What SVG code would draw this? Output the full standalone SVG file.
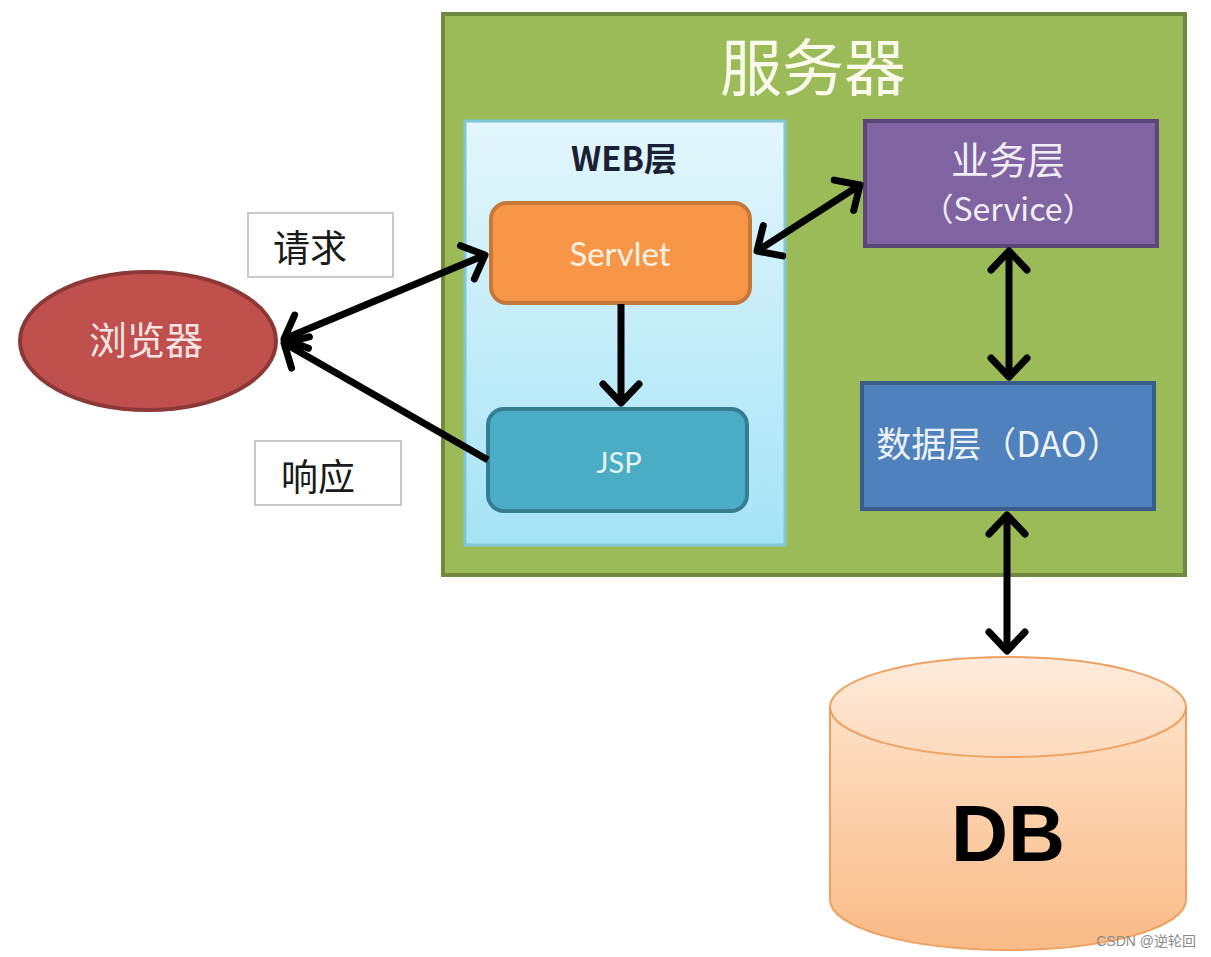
<svg xmlns="http://www.w3.org/2000/svg" width="1211" height="957" viewBox="0 0 1211 957">
<style>
.cjk{font-family:"Noto Sans CJK SC","Noto Sans",sans-serif}
.lat{font-family:Lato,"Open Sans","Noto Sans CJK SC",sans-serif}
.conn{stroke:#000;stroke-width:7;fill:none;stroke-linecap:butt}
</style>
<defs>
<linearGradient id="webg" x1="0" y1="0" x2="0" y2="1">
<stop offset="0" stop-color="#E3F6FC"/><stop offset="1" stop-color="#A5E3F6"/>
</linearGradient>
<linearGradient id="dbbody" x1="0" y1="0" x2="0" y2="1">
<stop offset="0" stop-color="#FDE0C6"/><stop offset="1" stop-color="#F9BA86"/>
</linearGradient>
<linearGradient id="dbtop" x1="0" y1="0" x2="0" y2="1">
<stop offset="0" stop-color="#FEEBDB"/><stop offset="1" stop-color="#FCDABD"/>
</linearGradient>
<marker id="ah" markerUnits="userSpaceOnUse" markerWidth="60" markerHeight="60" viewBox="-30 -30 60 60" refX="0" refY="0" orient="auto-start-reverse" overflow="visible">
<path d="M-19,-18 L0,0 L-19,18" fill="none" stroke="#000" stroke-width="7" stroke-linecap="round" stroke-linejoin="round"/>
</marker>
</defs>
<rect width="1211" height="957" fill="#fff"/>

<g id="server">
<rect x="443" y="14" width="742" height="561" fill="#9BBB59" stroke="#71893F" stroke-width="4"/>
<text class="cjk" x="813" y="91" font-size="62" fill="#FAFAEC" text-anchor="middle">服务器</text>
</g>

<g id="web-layer">
<rect x="465" y="121" width="320" height="424" fill="url(#webg)" stroke="#7FC7D6" stroke-width="3"/>
<text class="cjk" x="624" y="171" font-size="33" font-weight="bold" fill="#1A2035" text-anchor="middle">WEB层</text>
</g>

<g id="servlet">
<rect x="491" y="203" width="259" height="100" rx="16" fill="#F79646" stroke="#C6773A" stroke-width="4"/>
<text class="lat" x="620" y="266" font-size="33" fill="#FDF0E4" text-anchor="middle">Servlet</text>
</g>

<g id="jsp">
<rect x="488" y="409" width="259" height="102" rx="16" fill="#4BACC6" stroke="#357D91" stroke-width="4"/>
<text class="lat" x="619" y="473" font-size="29" fill="#E6F4F8" text-anchor="middle">JSP</text>
</g>

<g id="service">
<rect x="865" y="121" width="292" height="125" fill="#8064A2" stroke="#5A4677" stroke-width="4"/>
<text class="cjk" x="1008" y="174" font-size="38" fill="#F2EEF7" text-anchor="middle">业务层</text>
<text class="cjk" x="1008" y="221" font-size="32" fill="#F2EEF7" text-anchor="middle">（Service）</text>
</g>

<g id="dao">
<rect x="862" y="383" width="292" height="126" fill="#4F81BD" stroke="#385D8A" stroke-width="4"/>
<text class="cjk" x="999" y="457" font-size="35" fill="#EEF3FA" text-anchor="middle">数据层（DAO）</text>
</g>

<g id="browser">
<ellipse cx="148" cy="341" rx="128" ry="69" fill="#C0504D" stroke="#8C3836" stroke-width="4"/>
<text class="cjk" x="146" y="354" font-size="38" fill="#F8E4E3" text-anchor="middle">浏览器</text>
</g>

<g id="label-request">
<rect x="248" y="213" width="145" height="64" fill="#fff" stroke="#C8C8C8" stroke-width="2"/>
<text class="cjk" x="310" y="262" font-size="37" fill="#1a1a1a" text-anchor="middle">请求</text>
</g>

<g id="label-response">
<rect x="255" y="441" width="146" height="64" fill="#fff" stroke="#C8C8C8" stroke-width="2"/>
<text class="cjk" x="318" y="491" font-size="37" fill="#1a1a1a" text-anchor="middle">响应</text>
</g>

<g id="db">
<path d="M830,707 L830,900 A178,50 0 0 0 1186,900 L1186,707" fill="url(#dbbody)" stroke="#F0A060" stroke-width="2"/>
<ellipse cx="1008" cy="707" rx="178" ry="50" fill="url(#dbtop)" stroke="#F0A060" stroke-width="2"/>
<text x="1008" y="861" font-family="Liberation Sans,Arial,sans-serif" font-size="79" font-weight="bold" fill="#000" text-anchor="middle">DB</text>
</g>

<g id="connectors">
<line class="conn" x1="284" y1="339" x2="485" y2="255" marker-start="url(#ah)" marker-end="url(#ah)"/>
<line class="conn" x1="488" y1="460" x2="284" y2="343" marker-end="url(#ah)"/>
<line class="conn" x1="621" y1="304" x2="621" y2="403" marker-end="url(#ah)"/>
<line class="conn" x1="757" y1="251" x2="860" y2="185" marker-start="url(#ah)" marker-end="url(#ah)"/>
<line class="conn" x1="1009" y1="251" x2="1009" y2="377" marker-start="url(#ah)" marker-end="url(#ah)"/>
<line class="conn" x1="1007" y1="515" x2="1007" y2="651" marker-start="url(#ah)" marker-end="url(#ah)"/>
</g>

<text x="1196" y="946" font-family="Liberation Sans,Noto Sans CJK SC,sans-serif" font-size="14" fill="#8a8a8a" text-anchor="end">CSDN @逆轮回</text>
</svg>
